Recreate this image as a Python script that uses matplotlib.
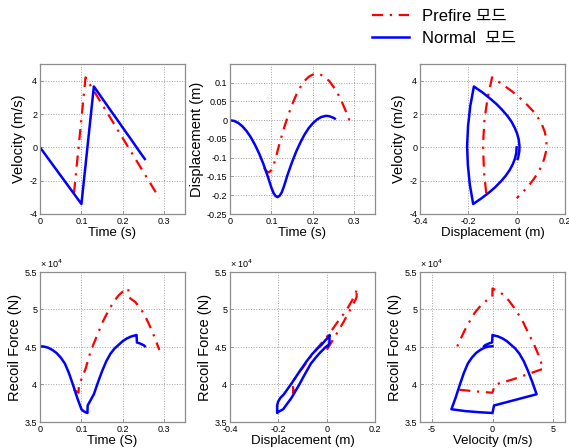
import matplotlib
matplotlib.use('Agg')
import matplotlib.pyplot as plt
from matplotlib.ticker import FuncFormatter
from matplotlib.lines import Line2D

plt.rcParams['font.family'] = ['Liberation Sans', 'Noto Sans CJK KR']
plt.rcParams['axes.unicode_minus'] = False

# ---------------- Normal mode (blue) ----------------
t_normal = [0, 0.01, 0.02, 0.03, 0.04, 0.05, 0.06, 0.07, 0.08, 0.09, 0.10,
            0.105, 0.11, 0.1145, 0.115, 0.12, 0.125, 0.13, 0.14, 0.15, 0.16,
            0.17, 0.18, 0.19, 0.20, 0.21, 0.22, 0.23, 0.233, 0.234, 0.24,
            0.25, 0.253]
v_normal = [0, -0.34, -0.68, -1.02, -1.36, -1.70, -2.04, -2.38, -2.72, -3.06, -3.40,
            -2.225, -1.05, 0.0, 0.125, 1.30, 2.475, 3.65, 3.30, 2.94, 2.59,
            2.23, 1.88, 1.53, 1.17, 0.82, 0.47, 0.11, 0.0, -0.035, -0.25,
            -0.60, -0.70]
d_normal = [0, -0.0018, -0.0072, -0.0162, -0.0288, -0.045, -0.065, -0.088, -0.115, -0.146, -0.180,
            -0.194, -0.202, -0.205, -0.205, -0.201, -0.192, -0.177, -0.142, -0.111, -0.083,
            -0.059, -0.038, -0.021, -0.008, 0.002, 0.0085, 0.0114, 0.0116, 0.0116, 0.0107,
            0.0064, 0.0044]
f_normal = [45100, 45050, 44900, 44600, 44200, 43600, 42800, 41500, 39900, 38200, 36700,
            36450, 36300, 36200, 37200, 37700, 38200, 38700, 40300, 41800, 43100,
            44100, 44800, 45300, 45800, 46150, 46400, 46550, 46600, 45600, 45500,
            45250, 45100]

# ---------------- Prefire mode (red) ----------------
t_prefire = [0.082, 0.087, 0.093, 0.094, 0.10, 0.105, 0.11, 0.12, 0.13, 0.14,
             0.15, 0.16, 0.17, 0.18, 0.19, 0.20, 0.21, 0.2132, 0.2135, 0.22,
             0.23, 0.24, 0.25, 0.26, 0.27, 0.28, 0.288]
v_prefire = [-2.75, -1.51, -0.02, 0.23, 1.72, 2.96, 4.20, 3.79, 3.39, 2.98,
             2.57, 2.17, 1.76, 1.35, 0.94, 0.54, 0.13, 0.0, -0.01, -0.28,
             -0.68, -1.09, -1.50, -1.90, -2.31, -2.72, -3.05]
d_prefire = [-0.126, -0.135, -0.139, -0.139, -0.133, -0.120, -0.102, -0.060, -0.022, 0.012,
             0.042, 0.068, 0.089, 0.105, 0.116, 0.122, 0.124, 0.124, 0.124, 0.121,
             0.114, 0.104, 0.089, 0.071, 0.049, 0.023, 0.0]
f_prefire = [39300, 39100, 38900, 40000, 40700, 41400, 42100, 44000, 45500, 46800,
             48200, 49300, 50300, 51200, 51900, 52400, 52700, 52800, 51700, 51400,
             51000, 50300, 49500, 48400, 47200, 45800, 44600]

labels = ['Prefire 모드', 'Normal  모드']

fig = plt.figure(figsize=(5.69, 4.48), dpi=100)

lefts = [40 / 569, 230 / 569, 420 / 569]
w = 145 / 569
h = 150 / 448
bottoms = [1 - 214 / 448, 1 - 422 / 448]

red_kw = dict(color='red', lw=1.6, dashes=[5, 3, 1, 3])
blue_kw = dict(color='blue', lw=1.8)

force_fmt = FuncFormatter(lambda v, p: '%g' % (v / 1e4))
plain_fmt = FuncFormatter(lambda v, p: '%g' % round(v, 3))


def style(ax, xlim, ylim, xticks, yticks, xlabel, ylabel, force=False):
    ax.set_xlim(xlim)
    ax.set_ylim(ylim)
    ax.set_xticks(xticks)
    ax.set_yticks(yticks)
    ax.xaxis.set_major_formatter(plain_fmt)
    ax.yaxis.set_major_formatter(force_fmt if force else plain_fmt)
    ax.grid(True, linestyle=':', color='#a0a0a0', lw=0.7)
    for s in ax.spines.values():
        s.set_color('#8c8c8c')
        s.set_linewidth(0.9)
    ax.tick_params(direction='in', length=2, width=0.6, color='#8c8c8c',
                   labelsize=6.5, pad=2)
    ax.set_xlabel(xlabel, fontsize=9.5, labelpad=1)
    ax.set_ylabel(ylabel, fontsize=10.5, labelpad=2)
    if force:
        ax.text(0.0, 1.01, '× 10$^4$', transform=ax.transAxes,
                fontsize=6.5, ha='left', va='bottom')


time_ticks = [0, 0.1, 0.2, 0.3]
disp_ticks = [-0.4, -0.2, 0, 0.2]
force_ticks = [35000, 40000, 45000, 50000, 55000]

# Velocity vs time
ax = fig.add_axes([lefts[0], bottoms[0], w, h])
ax.plot(t_prefire, v_prefire, **red_kw)
ax.plot(t_normal, v_normal, **blue_kw)
style(ax, (0, 0.35), (-4, 5), time_ticks, [-4, -2, 0, 2, 4], 'Time (s)', 'Velocity (m/s)')

# Displacement vs time
ax = fig.add_axes([lefts[1], bottoms[0], w, h])
ax.plot(t_prefire, d_prefire, **red_kw)
ax.plot(t_normal, d_normal, **blue_kw)
style(ax, (0, 0.35), (-0.25, 0.15), time_ticks,
      [-0.25, -0.2, -0.15, -0.1, -0.05, 0, 0.05, 0.1], 'Time (s)', 'Displacement (m)')

# Velocity vs displacement
ax = fig.add_axes([lefts[2], bottoms[0], w, h])
ax.plot(d_prefire, v_prefire, **red_kw)
ax.plot(d_normal, v_normal, **blue_kw)
style(ax, (-0.4, 0.2), (-4, 5), disp_ticks, [-4, -2, 0, 2, 4], 'Displacement (m)', 'Velocity (m/s)')

# Force vs time
ax = fig.add_axes([lefts[0], bottoms[1], w, h])
ax.plot(t_prefire, f_prefire, **red_kw)
ax.plot(t_normal, f_normal, **blue_kw)
style(ax, (0, 0.35), (35000, 55000), time_ticks, force_ticks, 'Time (S)', 'Recoil Force (N)', force=True)

# Force vs displacement
ax = fig.add_axes([lefts[1], bottoms[1], w, h])
ax.plot(d_prefire, f_prefire, **red_kw)
ax.plot(d_normal, f_normal, **blue_kw)
style(ax, (-0.4, 0.2), (35000, 55000), disp_ticks, force_ticks, 'Displacement (m)', 'Recoil Force (N)', force=True)

# Force vs velocity
ax = fig.add_axes([lefts[2], bottoms[1], w, h])
ax.plot(v_prefire, f_prefire, **red_kw)
ax.plot(v_normal, f_normal, **blue_kw)
style(ax, (-6, 6), (35000, 55000), [-5, 0, 5], force_ticks, 'Velocity (m/s)', 'Recoil Force (N)', force=True)

handles = [Line2D([], [], **red_kw), Line2D([], [], **blue_kw)]
fig.legend(handles, labels, loc='upper left', bbox_to_anchor=(0.648, 1 - 6 / 448),
           frameon=False, fontsize=12, handlelength=2.2, handletextpad=0.8,
           labelspacing=0.4, borderpad=0.2, borderaxespad=0)

fig.savefig('out.png', dpi=100)
